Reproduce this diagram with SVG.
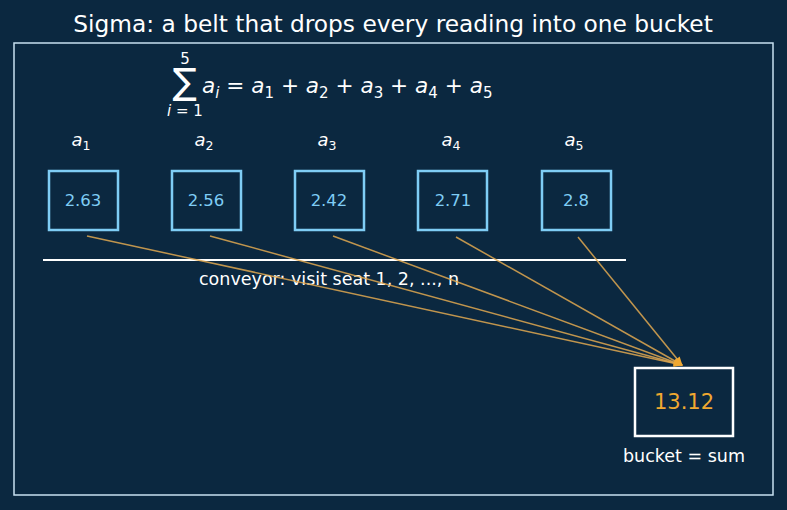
<svg xmlns="http://www.w3.org/2000/svg" width="787" height="510" viewBox="0 0 787 510">
<defs>
<style>
text{font-family:"DejaVu Sans",sans-serif;}
.title{font-size:23.3px;fill:#ffffff;text-anchor:middle;}
.lab{font-size:18px;fill:#ffffff;text-anchor:middle;font-style:italic;}
.sub{font-size:12.5px;font-style:normal;}
.box{fill:none;stroke:#7fcdf5;stroke-width:2.5;}
.val{font-size:16.5px;fill:#7fcdf5;text-anchor:middle;}
.arr{stroke:#e0a850;stroke-opacity:0.85;stroke-width:1.5;fill:none;marker-end:url(#ah);}
.note{font-size:17.5px;fill:#ffffff;text-anchor:middle;}
</style>
<marker id="ah" viewBox="0 0 10 10" refX="9" refY="5" markerWidth="10" markerHeight="9" orient="auto" markerUnits="userSpaceOnUse">
<path d="M0,1 L10,5 L0,9 z" fill="#f0a830"/>
</marker>
</defs>
<rect x="0" y="0" width="787" height="510" fill="#0b2840"/>
<text class="title" x="393" y="32">Sigma: a belt that drops every reading into one bucket</text>
<rect x="14" y="43" width="759" height="452" fill="none" stroke="#c8e0f0" stroke-width="1.5"/>
<g id="formula" fill="#ffffff">
<text x="185" y="64" font-size="15" text-anchor="middle">5</text>
<text x="185" y="94" font-size="36" text-anchor="middle">∑</text>
<text x="185" y="116" font-size="15" text-anchor="middle"><tspan font-style="italic">i</tspan> = 1</text>
<text x="202" y="93" font-size="21.6"><tspan font-style="italic">a</tspan><tspan font-style="italic" font-size="15" dy="5">i</tspan><tspan dy="-5"> = </tspan><tspan font-style="italic">a</tspan><tspan font-size="15" dy="5">1</tspan><tspan dy="-5"> + </tspan><tspan font-style="italic">a</tspan><tspan font-size="15" dy="5">2</tspan><tspan dy="-5"> + </tspan><tspan font-style="italic">a</tspan><tspan font-size="15" dy="5">3</tspan><tspan dy="-5"> + </tspan><tspan font-style="italic">a</tspan><tspan font-size="15" dy="5">4</tspan><tspan dy="-5"> + </tspan><tspan font-style="italic">a</tspan><tspan font-size="15" dy="5">5</tspan></text>
</g>
<g id="n1"><text class="lab" x="81" y="146">a<tspan class="sub" dy="4">1</tspan></text><rect class="box" x="49" y="171" width="69" height="59"/><text class="val" x="83" y="206">2.63</text></g>
<g id="n2"><text class="lab" x="204" y="146">a<tspan class="sub" dy="4">2</tspan></text><rect class="box" x="172" y="171" width="69" height="59"/><text class="val" x="206" y="206">2.56</text></g>
<g id="n3"><text class="lab" x="327" y="146">a<tspan class="sub" dy="4">3</tspan></text><rect class="box" x="295" y="171" width="69" height="59"/><text class="val" x="329" y="206">2.42</text></g>
<g id="n4"><text class="lab" x="451" y="146">a<tspan class="sub" dy="4">4</tspan></text><rect class="box" x="418" y="171" width="69" height="59"/><text class="val" x="453" y="206">2.71</text></g>
<g id="n5"><text class="lab" x="574" y="146">a<tspan class="sub" dy="4">5</tspan></text><rect class="box" x="542" y="171" width="69" height="59"/><text class="val" x="576" y="206">2.8</text></g>
<g id="conveyor">
<line x1="43" y1="260" x2="626" y2="260" stroke="#ffffff" stroke-width="2"/>
<text class="note" x="329" y="285">conveyor: visit seat 1, 2, ..., n</text>
</g>
<g id="bucket">
<rect x="635" y="368" width="98" height="68" fill="none" stroke="#ffffff" stroke-width="2.5"/>
<text x="684" y="409" font-size="21" fill="#f0a830" text-anchor="middle">13.12</text>
<text class="note" x="684" y="462">bucket = sum</text>
</g>
<g id="connectors">
<line class="arr" x1="87" y1="236" x2="682" y2="365"/>
<line class="arr" x1="210" y1="236" x2="682" y2="365"/>
<line class="arr" x1="333" y1="236" x2="682" y2="365"/>
<line class="arr" x1="456" y1="237" x2="682" y2="365"/>
<line class="arr" x1="578" y1="237" x2="682" y2="365"/>
</g>
</svg>
